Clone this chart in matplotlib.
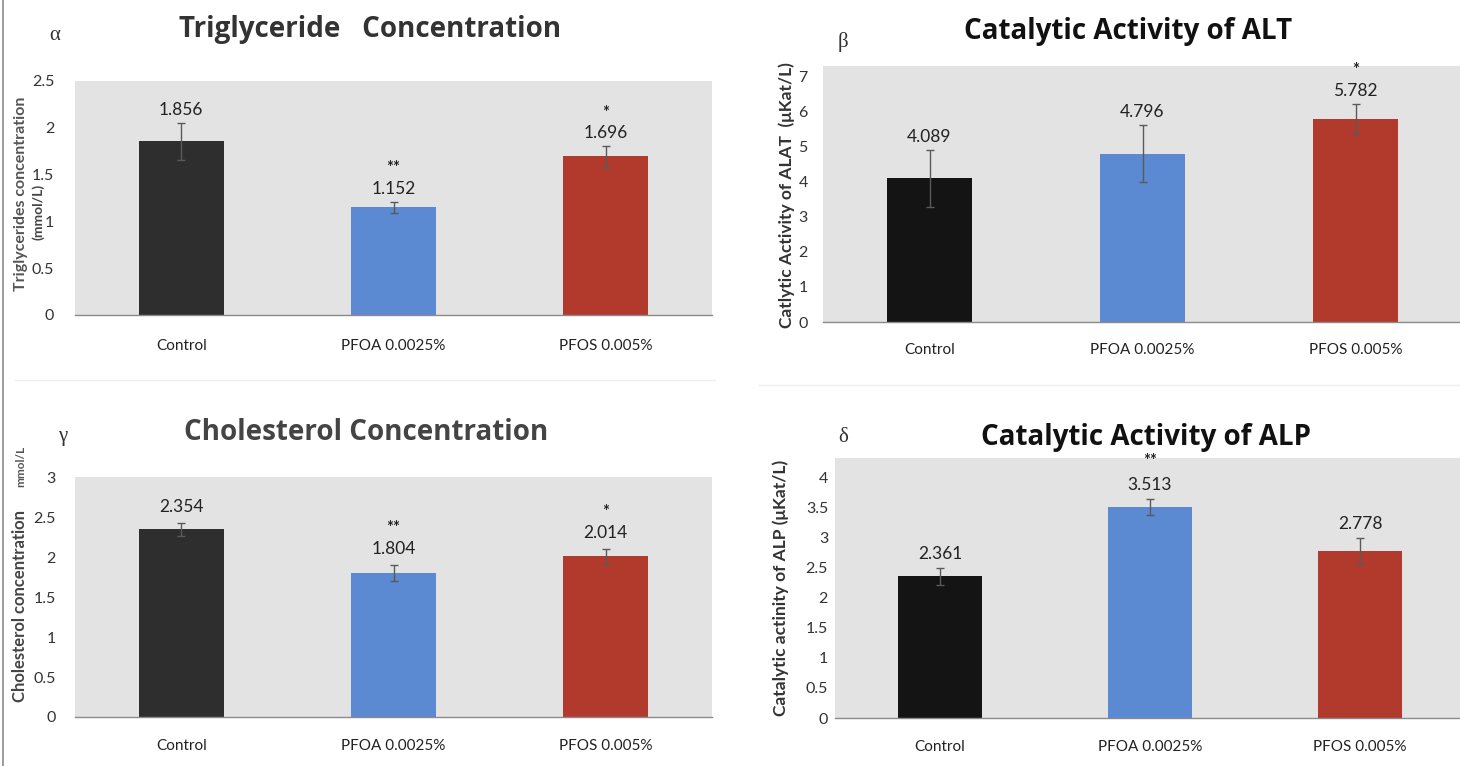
import matplotlib
matplotlib.use("Agg")
import matplotlib.pyplot as plt
from matplotlib.lines import Line2D

# ---- data ----
groups = ["Control", "PFOA 0.0025%", "PFOS 0.005%"]

tg_values = [1.856, 1.152, 1.696]
tg_errors = [0.20, 0.06, 0.11]
tg_stars = ["", "**", "*"]

alt_values = [4.089, 4.796, 5.782]
alt_errors = [0.81, 0.80, 0.42]
alt_stars = ["", "", "*"]

chol_values = [2.354, 1.804, 2.014]
chol_errors = [0.08, 0.10, 0.09]
chol_stars = ["", "**", "*"]

alp_values = [2.361, 3.513, 2.778]
alp_errors = [0.14, 0.13, 0.22]
alp_stars = ["", "**", ""]

W, H = 1460, 766
fig = plt.figure(figsize=(W / 100, H / 100), dpi=100, facecolor="white")

SANS = ["Lato", "DejaVu Sans"]
TITLE = ["Open Sans", "DejaVu Sans"]
SERIF = ["Liberation Serif", "DejaVu Serif"]
PLOT_BG = "#e3e3e3"


def px_axes(left, right, top, bottom):
    return fig.add_axes([left / W, 1 - bottom / H, (right - left) / W, (bottom - top) / H])


def fig_text(x, y, s, **kw):
    return fig.text(x / W, 1 - y / H, s, **kw)


def panel(ax, values, errors, stars, ylim, yticks, ticklabels, colors,
          label_gap, star_gap, ypad, xpad):
    x = range(len(groups))
    ax.set_facecolor(PLOT_BG)
    ax.bar(x, values, width=0.4, color=colors, zorder=2)
    ax.errorbar(x, values, yerr=errors, fmt="none", ecolor="#5a5a5a",
                elinewidth=1.0, capsize=3, capthick=1.0, zorder=3)
    for xi, v, e, s in zip(x, values, errors, stars):
        ly = v + e + label_gap
        ax.text(xi, ly, f"{v:.3f}", ha="center", va="bottom",
                fontsize=12.5, family=SANS, color="#222222", zorder=4)
        if s:
            ax.text(xi, ly + star_gap, s, ha="center", va="bottom",
                    fontsize=12, family=SANS, fontweight="bold",
                    color="#222222", zorder=4)
    ax.set_xlim(-0.5, len(groups) - 0.5)
    ax.set_ylim(*ylim)
    ax.set_yticks(yticks)
    ax.set_yticklabels(ticklabels, family=SANS, fontsize=11.5, color="#333333")
    ax.set_xticks(list(x))
    ax.set_xticklabels(groups, family=SANS, fontsize=11, color="#222222")
    ax.tick_params(axis="y", length=0, pad=ypad)
    ax.tick_params(axis="x", length=0, pad=xpad)
    for side in ("top", "right", "left"):
        ax.spines[side].set_visible(False)
    ax.spines["bottom"].set_color("#8a8a8a")
    ax.spines["bottom"].set_linewidth(1.0)


dark = "#2e2e2e"
black = "#141414"
blue = "#5b8ad2"
red = "#b23a2c"

title_kw = dict(ha="center", va="center", family=TITLE, fontweight="bold", fontsize=20)
greek_kw = dict(family=SERIF, fontsize=15, ha="center", va="center", color="#333333")

# α  Triglycerides
ax1 = px_axes(75, 712, 81, 315)
panel(ax1, tg_values, tg_errors, tg_stars, (0, 2.5),
      [0, 0.5, 1, 1.5, 2, 2.5], ["0", "0.5", "1", "1.5", "2", "2.5"],
      [dark, blue, red], 0.05, 0.22, 15, 17)
fig_text(21, 194, "Triglycerides concentration", rotation=90, ha="center",
         va="center", family=SANS, fontsize=11.5, fontweight="bold", color="#555555")
fig_text(38, 212, "(mmol/L)", rotation=90, ha="center", va="center",
         family=SANS, fontsize=10, fontweight="bold", color="#444444")
fig_text(370, 30, "Triglyceride   Concentration", color="#333333", **title_kw)
fig_text(55, 36, "α", **greek_kw)

# β  ALT
ax2 = px_axes(823, 1462, 66, 322)
panel(ax2, alt_values, alt_errors, alt_stars, (0, 7.29),
      list(range(8)), [str(i) for i in range(8)],
      [black, blue, red], 0.15, 0.6, 11, 15)
fig_text(787, 195, "Catlytic Activity of ALAT  (μKat/L)", rotation=90,
         ha="center", va="center", family=SANS, fontsize=12.5, fontweight="bold",
         color="#333333")
fig_text(1128, 32, "Catalytic Activity of ALT", color="#111111", **title_kw)
fig_text(843, 42, "β", **greek_kw)

# γ  Cholesterol
ax3 = px_axes(75, 712, 477, 717)
panel(ax3, chol_values, chol_errors, chol_stars, (0, 3.01),
      [0, 0.5, 1, 1.5, 2, 2.5, 3], ["0", "0.5", "1", "1.5", "2", "2.5", "3"],
      [dark, blue, red], 0.1, 0.27, 14, 16)
fig_text(20, 606, "Cholesterol concentration", rotation=90, ha="center",
         va="center", family=SANS, fontsize=12, fontweight="bold", color="#444444")
fig_text(21, 466, "mmol/L", rotation=90, ha="center", va="center",
         family=SANS, fontsize=8.5, fontweight="bold", color="#555555")
fig_text(366, 432, "Cholesterol Concentration", color="#444444", **title_kw)
fig_text(63, 437, "γ", **greek_kw)

# δ  ALP
ax4 = px_axes(835, 1465, 458, 718)
panel(ax4, alp_values, alp_errors, alp_stars, (0, 4.33),
      [0, 0.5, 1, 1.5, 2, 2.5, 3, 3.5, 4],
      ["0", "0.5", "1", "1.5", "2", "2.5", "3", "3.5", "4"],
      [black, blue, red], 0.1, 0.4, 5, 16)
fig_text(781, 588, "Catalytic actinity of ALP (μKat/L)", rotation=90,
         ha="center", va="center", family=SANS, fontsize=12.5, fontweight="bold",
         color="#333333")
fig_text(1146, 437, "Catalytic Activity of ALP", color="#111111", **title_kw)
fig_text(843, 437, "δ", **greek_kw)

# thin frame line at the left edge and faint separators between panels
fig.add_artist(Line2D([3 / W, 3 / W], [0, 1], color="#8c8c8c", lw=1.2))
fig.add_artist(Line2D([0.01, 0.49], [1 - 380 / H, 1 - 380 / H], color="#eeeeee", lw=1))
fig.add_artist(Line2D([0.52, 1.0], [1 - 385 / H, 1 - 385 / H], color="#eeeeee", lw=1))

fig.savefig("out.png", dpi=100, facecolor="white")
